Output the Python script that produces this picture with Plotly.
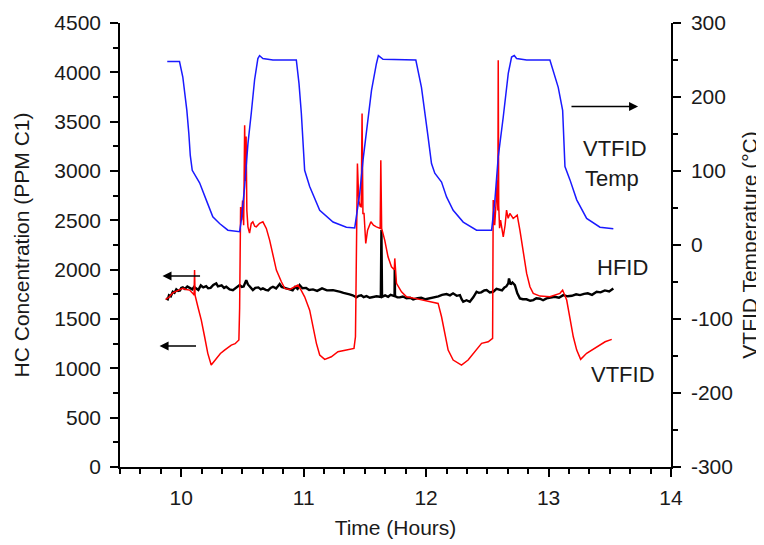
import plotly.graph_objects as go

FONT = "Liberation Sans, Arial, sans-serif"

# ---- VTFID temperature (right axis, deg C) ----
temp_t = [9.886, 9.986, 10.013, 10.046, 10.062, 10.074, 10.090, 10.150, 10.204, 10.258,
          10.313, 10.381, 10.477, 10.491, 10.518, 10.545, 10.572, 10.599, 10.626, 10.640,
          10.667, 10.749, 10.940, 10.962, 10.981, 10.994, 11.008, 11.049, 11.131, 11.240,
          11.349, 11.417, 11.431, 11.458, 11.485, 11.513, 11.554, 11.594, 11.610, 11.648,
          11.916, 11.962, 11.989, 12.016, 12.044, 12.071, 12.126, 12.167, 12.221, 12.303,
          12.412, 12.535, 12.562, 12.589, 12.630, 12.671, 12.698, 12.720, 12.739, 12.821,
          13.011, 13.038, 13.079, 13.115, 13.126, 13.134, 13.175, 13.230, 13.311, 13.420,
          13.529]
temp_v = [248, 248, 227, 182, 151, 121, 101, 84, 61, 38,
          29, 20, 18, 34, 79, 137, 178, 223, 252, 256,
          252, 250, 250, 218, 178, 132, 101, 79, 47, 31,
          24, 23, 38, 70, 115, 151, 209, 245, 256, 251,
          250, 213, 182, 146, 110, 97, 85, 65, 47, 31,
          20, 20, 61, 119, 173, 232, 254, 256, 252, 250,
          250, 236, 213, 182, 128, 106, 88, 61, 36, 24,
          22]

# ---- VTFID concentration (left axis, ppm C1) ----
vtfid_t = [9.872, 9.900, 9.931, 9.970, 10.013, 10.040, 10.068, 10.101, 10.105, 10.109, 10.113,
           10.136, 10.164, 10.191, 10.217, 10.245, 10.286, 10.320, 10.354, 10.409, 10.440,
           10.471, 10.477, 10.485, 10.493, 10.501, 10.510, 10.518, 10.524, 10.530, 10.536,
           10.545, 10.558, 10.572, 10.585, 10.600, 10.613, 10.640, 10.667, 10.695, 10.722,
           10.749, 10.777, 10.818, 10.845, 10.886, 10.920, 10.953, 10.980, 11.008, 11.049,
           11.076, 11.104, 11.131, 11.172, 11.226, 11.280, 11.349, 11.411, 11.423, 11.439,
           11.450, 11.462, 11.470, 11.477, 11.484, 11.493, 11.507, 11.522, 11.549, 11.570,
           11.594, 11.625, 11.630, 11.637, 11.662, 11.689, 11.717, 11.740, 11.744, 11.748,
           11.758, 11.799, 11.840, 11.908, 11.975, 12.040, 12.098, 12.126, 12.153, 12.180,
           12.221, 12.289, 12.343, 12.398, 12.453, 12.507, 12.543, 12.548, 12.560, 12.575,
           12.580, 12.586, 12.589, 12.593, 12.600, 12.608, 12.630, 12.645, 12.657, 12.670,
           12.684, 12.711, 12.744, 12.766, 12.793, 12.821, 12.848, 12.875, 12.930, 13.011,
           13.093, 13.115, 13.148, 13.175, 13.202, 13.230, 13.262, 13.311, 13.393, 13.462,
           13.516]
vtfid_v = [1699, 1720, 1766, 1790, 1810, 1800, 1793, 1750, 1742, 1996, 1742,
           1624, 1489, 1320, 1152, 1033, 1101, 1150, 1185, 1236, 1250,
           1287, 1611, 2634, 2500, 2700, 2450, 3464, 2900, 3350, 2600,
           2434, 2370, 2469, 2485, 2440, 2434, 2470, 2485, 2418, 2300,
           2140, 1996, 1877, 1810, 1800, 1820, 1844, 1790, 1725, 1590,
           1421, 1253, 1135, 1091, 1117, 1168, 1185, 1202, 1320, 3076,
           2700, 2640, 2637, 3583, 2570, 2570, 2266, 2401, 2485, 2450,
           2434, 2418, 3110, 2418, 2300, 2130, 2029, 2000, 2114, 1990,
           1861, 1776, 1725, 1709, 1692, 1680, 1658, 1523, 1354, 1185,
           1084, 1033, 1084, 1168, 1253, 1269, 1304, 2705, 2450, 2750,
           2907, 2600, 4123, 2650, 2420, 2502, 2333, 2450, 2603, 2520,
           2570, 2519, 2553, 2401, 2165, 1962, 1827, 1760, 1732, 1725,
           1760, 1793, 1692, 1489, 1320, 1185, 1091, 1152, 1219, 1269,
           1294]

# ---- HFID concentration (left axis, ppm C1) ----
hfid_t = [9.877, 9.890, 9.900, 9.915, 9.931, 9.945, 9.960, 9.975, 9.990, 10.000,
          10.013, 10.030, 10.050, 10.070, 10.090, 10.105, 10.123, 10.140, 10.160, 10.180,
          10.204, 10.220, 10.240, 10.262, 10.286, 10.300, 10.330, 10.350, 10.368, 10.395,
          10.422, 10.450, 10.477, 10.495, 10.510, 10.531, 10.545, 10.560, 10.585, 10.605,
          10.630, 10.650, 10.667, 10.690, 10.710, 10.730, 10.749, 10.775, 10.804, 10.820,
          10.840, 10.865, 10.886, 10.910, 10.930, 10.950, 10.967, 10.990, 11.020, 11.045,
          11.076, 11.110, 11.150, 11.190, 11.240, 11.270, 11.300, 11.325, 11.349, 11.375,
          11.400, 11.420, 11.431, 11.450, 11.470, 11.490, 11.513, 11.540, 11.570, 11.595,
          11.621, 11.630, 11.635, 11.640, 11.665, 11.690, 11.710, 11.730, 11.742, 11.744,
          11.746, 11.765, 11.785, 11.810, 11.840, 11.870, 11.894, 11.930, 11.960, 11.995,
          12.030, 12.065, 12.100, 12.130, 12.167, 12.195, 12.220, 12.250, 12.276, 12.290,
          12.303, 12.330, 12.357, 12.385, 12.412, 12.430, 12.450, 12.475, 12.494, 12.520,
          12.548, 12.575, 12.603, 12.620, 12.640, 12.655, 12.671, 12.677, 12.690, 12.705,
          12.725, 12.745, 12.766, 12.790, 12.820, 12.850, 12.875, 12.900, 12.930, 12.955,
          12.984, 13.015, 13.050, 13.085, 13.120, 13.155, 13.190, 13.225, 13.257, 13.290,
          13.320, 13.355, 13.393, 13.425, 13.460, 13.495, 13.529]
hfid_v = [1709, 1700, 1740, 1730, 1776, 1765, 1800, 1785, 1790, 1815,
          1820, 1805, 1830, 1812, 1800, 1825, 1810, 1795, 1840, 1820,
          1833, 1812, 1815, 1845, 1861, 1830, 1840, 1815, 1827, 1800,
          1793, 1820, 1844, 1825, 1830, 1894, 1850, 1830, 1793, 1815,
          1820, 1800, 1810, 1795, 1790, 1815, 1827, 1810, 1854, 1825,
          1820, 1808, 1800, 1790, 1825, 1805, 1844, 1812, 1815, 1795,
          1800, 1785, 1810, 1790, 1793, 1780, 1775, 1765, 1760, 1750,
          1740, 1725, 1719, 1735, 1740, 1722, 1732, 1715, 1720, 1730,
          1725, 1725, 2401, 1725, 1740, 1725, 1745, 1732, 1732, 2000,
          1732, 1720, 1719, 1728, 1710, 1715, 1699, 1712, 1715, 1700,
          1709, 1725, 1730, 1745, 1753, 1740, 1760, 1735, 1742, 1700,
          1675, 1690, 1675, 1720, 1776, 1765, 1770, 1790, 1793, 1770,
          1776, 1805, 1800, 1790, 1820, 1830, 1861, 1911, 1850, 1870,
          1844, 1760, 1709, 1700, 1700, 1685, 1692, 1710, 1705, 1690,
          1709, 1720, 1725, 1715, 1742, 1730, 1735, 1750, 1742, 1755,
          1760, 1745, 1776, 1770, 1790, 1780, 1810]

# ---- axis ticks / labels ----
x_range = [9.5, 14]
left_range = [0, 4500]
right_range = [-300, 300]
right_tickvals = [-300, -200, -100, 0, 100, 200, 300]
right_ticktext = ["-300", "-200", "-100", "0", "100", "200", "300"]

fig = go.Figure()
fig.add_trace(go.Scatter(x=temp_t, y=temp_v, yaxis="y2", mode="lines",
                         line=dict(color="#1a1aff", width=1.5), showlegend=False))
fig.add_trace(go.Scatter(x=hfid_t, y=hfid_v, mode="lines",
                         line=dict(color="#000000", width=2.4), showlegend=False))
fig.add_trace(go.Scatter(x=vtfid_t, y=vtfid_v, mode="lines",
                         line=dict(color="#ff0000", width=1.5), showlegend=False))

tickfont = dict(family=FONT, size=21, color="#1a1a1a")
titlefont = dict(family=FONT, size=21, color="#1a1a1a")

fig.update_layout(
    width=764, height=545,
    margin=dict(l=112, r=101, t=15, b=86, autoexpand=False),
    paper_bgcolor="white", plot_bgcolor="white",
    xaxis=dict(range=x_range, dtick=1, tick0=10, showgrid=False, zeroline=False,
               automargin=False,
               showline=True, linecolor="black", linewidth=1.5,
               ticks="outside", ticklen=8, tickwidth=1.5, tickcolor="black",
               minor=dict(dtick=1/6, tick0=10, ticks="outside", ticklen=5,
                          tickwidth=1.5, tickcolor="black", showgrid=False),
               tickfont=tickfont, ticklabelstandoff=3,
               title=dict(text="Time (Hours)", font=titlefont, standoff=12)),
    xaxis2=dict(range=x_range, overlaying="x", side="top", matches="x",
                automargin=False,
                dtick=1, tick0=10, showgrid=False, zeroline=False,
                showline=True, linecolor="black", linewidth=1.5,
                ticks="inside", ticklen=7, tickwidth=1.5, tickcolor="black",
                minor=dict(dtick=1/6, tick0=10, ticks="inside", ticklen=3,
                           tickwidth=1.5, tickcolor="black", showgrid=False),
                showticklabels=False),
    yaxis=dict(range=left_range, dtick=500, tick0=0, showgrid=False, zeroline=False,
               automargin=False,
               showline=True, linecolor="black", linewidth=1.5,
               ticks="outside", ticklen=8, tickwidth=1.5, tickcolor="black",
               minor=dict(dtick=250, tick0=0, ticks="outside", ticklen=5,
                          tickwidth=1.5, tickcolor="black", showgrid=False),
               tickfont=tickfont, ticklabelstandoff=5,
               title=dict(text="HC Concentration (PPM C1)", font=titlefont, standoff=19)),
    yaxis2=dict(range=right_range, overlaying="y", side="right",
                automargin=False,
                tickvals=right_tickvals, ticktext=right_ticktext,
                showgrid=False, zeroline=False,
                showline=True, linecolor="black", linewidth=1.5,
                ticks="outside", ticklen=8, tickwidth=1.5, tickcolor="black",
                minor=dict(dtick=50, tick0=0, ticks="outside", ticklen=5,
                           tickwidth=1.5, tickcolor="black", showgrid=False),
                tickfont=tickfont, ticklabelstandoff=6,
                title=dict(text="VTFID Temperature (°C)", font=titlefont, standoff=10)),
)

labfont = dict(family=FONT, size=22, color="#1a1a1a")
fig.add_annotation(x=13.38, y=2020, xref="x", yref="y", text="HFID", showarrow=False,
                   font=labfont, xanchor="left", yanchor="middle")
fig.add_annotation(x=13.33, y=940, xref="x", yref="y", text="VTFID", showarrow=False,
                   font=labfont, xanchor="left", yanchor="middle")
fig.add_annotation(x=13.265, y=131, xref="x", yref="y2", text="VTFID", showarrow=False,
                   font=labfont, xanchor="left", yanchor="middle")
fig.add_annotation(x=13.28, y=90, xref="x", yref="y2", text="Temp", showarrow=False,
                   font=labfont, xanchor="left", yanchor="middle")

arrow = dict(showarrow=True, text="", arrowhead=2, arrowsize=1.2, arrowwidth=1.5,
             arrowcolor="black")
fig.add_annotation(x=9.847, y=1935, ax=10.166, ay=1935, xref="x", yref="y",
                   axref="x", ayref="y", **arrow)
fig.add_annotation(x=9.823, y=1226, ax=10.133, ay=1226, xref="x", yref="y",
                   axref="x", ayref="y", **arrow)
fig.add_annotation(x=13.731, y=187, ax=13.175, ay=187, xref="x", yref="y2",
                   axref="x", ayref="y2", **arrow)

fig.write_html("out.html")
